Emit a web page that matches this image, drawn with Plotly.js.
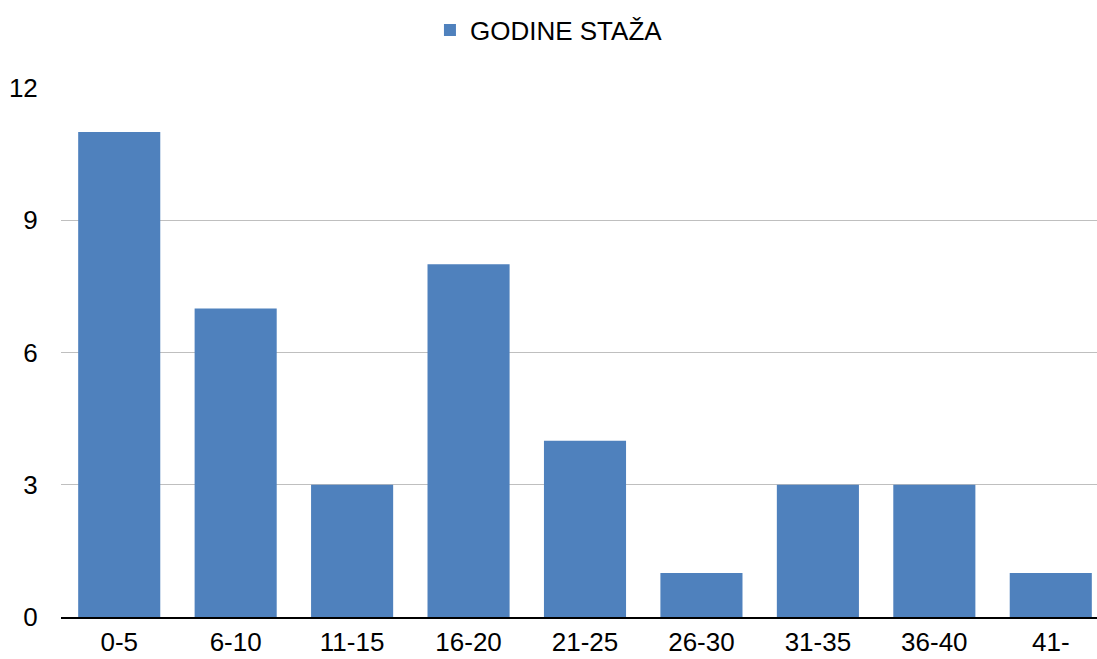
<!DOCTYPE html>
<html>
<head>
<meta charset="utf-8">
<script src="https://cdn.plot.ly/plotly-3.0.1.min.js"></script>
<style>
html,body{margin:0;padding:0;overflow:hidden;background:#fff;}
#chart{width:1109px;height:659px;}
</style>
</head>
<body>
<div id="chart"></div>
<script>
const categories = ["0-5","6-10","11-15","16-20","21-25","26-30","31-35","36-40","41-"];
const values = [11,7,3,8,4,1,3,3,1];
const seriesName = "GODINE STAŽA";
const yTicks = [0,3,6,9,12];

const trace = {
  type: 'bar',
  x: categories,
  y: values,
  name: seriesName,
  marker: {color: '#4F81BD'},
  showlegend: true,
  hoverinfo: 'x+y'
};

const layout = {
  width: 1109,
  height: 659,
  margin: {l: 61, r: 0, t: 88, b: 42},
  paper_bgcolor: '#ffffff',
  plot_bgcolor: '#ffffff',
  font: {family: 'Liberation Sans, Arial, sans-serif', size: 26, color: '#000000'},
  bargap: 0.295,
  showlegend: true,
  legend: {
    orientation: 'h',
    xref: 'container',
    yref: 'container',
    x: 0.495,
    xanchor: 'center',
    y: 1 - 30/659,
    yanchor: 'middle',
    font: {size: 26, color: '#000000'},
    itemwidth: 30
  },
  xaxis: {
    type: 'category',
    showgrid: false,
    showline: true,
    linecolor: '#000000',
    linewidth: 2,
    ticks: 'outside',
    ticklen: 1,
    tickcolor: 'rgba(0,0,0,0)',
    tickfont: {size: 26},
    fixedrange: true
  },
  yaxis: {
    range: [0, 12],
    tickvals: yTicks,
    ticktext: yTicks.map(String),
    showgrid: true,
    gridcolor: '#bfbfbf',
    gridwidth: 1,
    zeroline: false,
    showline: false,
    ticks: 'outside',
    ticklen: 17,
    tickcolor: 'rgba(0,0,0,0)',
    tickfont: {size: 26},
    fixedrange: true
  }
};

Plotly.newPlot('chart', [trace], layout, {displayModeBar: false, staticPlot: true});
</script>
</body>
</html>
